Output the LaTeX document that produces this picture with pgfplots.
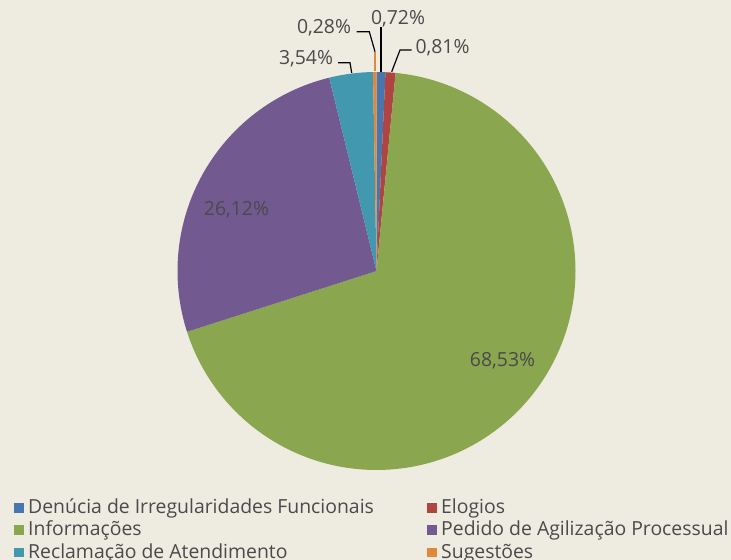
\documentclass[border=0pt]{standalone}
\usepackage{pgfplots}
\pgfplotsset{compat=1.18}
\usepackage{fontspec}
\setmainfont{Open Sans}

\definecolor{bg}{HTML}{EEECE1}
\definecolor{txt}{HTML}{4A4A4A}
\definecolor{cDen}{HTML}{4877B0}
\definecolor{cElo}{HTML}{AF4542}
\definecolor{cInf}{HTML}{8AA64F}
\definecolor{cPed}{HTML}{72598F}
\definecolor{cRec}{HTML}{4198AF}
\definecolor{cSug}{HTML}{E0883C}

% one wedge: cumulative share from #1 to #2 (percent), colour #3
% pie centre (376.5,289), radius 199, starts at 12 o'clock, clockwise
\newcommand{\slice}[3]{%
  \addplot[fill=#3, draw=none, domain=#1:#2, samples=150, variable=\t]
    ({376.5+199*cos(90-3.6*\t)}, {289+199*sin(90-3.6*\t)}) -- (376.5,289) -- cycle;}
% legend text with fixed height/depth so rows are evenly spaced
\newcommand{\legtxt}[1]{\raisebox{0pt}[13bp][4bp]{#1}}
\newcommand{\legtxtl}[1]{\raisebox{0pt}[13bp][4bp]{\makebox[395bp][l]{#1}}}

\begin{document}
\begin{tikzpicture}
  \path[use as bounding box] (0,0) rectangle (731bp,560bp);
  \clip (0,0) rectangle (731bp,560bp);
  \fill[bg] (0,0) rectangle (731bp,560bp);
  \begin{axis}[
      at={(0,0)}, anchor=south west,
      scale only axis, width=731bp, height=560bp,
      xmin=0, xmax=731, ymin=0, ymax=560,
      hide axis, clip=false,
      font=\fontsize{19.4bp}{23bp}\selectfont,
      legend columns=2,
      legend image code/.code={\fill[#1] (0bp,0.8bp) rectangle (10bp,10.3bp);},
      legend style={
        at={(axis cs:14,59.7)}, anchor=north west,
        draw=none, fill=none, inner sep=0pt,
        column sep=4bp, row sep=7.8bp,
        text=txt,
        cells={anchor=base west},
        nodes={inner sep=0pt},
      },
    ]

    % shares: 0.72, 0.81, 68.53, 26.12, 3.54, 0.28 (cumulative limits)
    \slice{0}{0.72}{cDen}
    \addlegendentry{\legtxtl{Denúcia de Irregularidades Funcionais}}
    \slice{0.72}{1.53}{cElo}
    \addlegendentry{\legtxt{Elogios}}
    \slice{1.53}{70.06}{cInf}
    \addlegendentry{\legtxtl{Informações}}
    \slice{70.06}{96.18}{cPed}
    \addlegendentry{\legtxt{Pedido de Agilização Processual}}
    \slice{96.18}{99.72}{cRec}
    \addlegendentry{\legtxtl{Reclamação de Atendimento}}
    \slice{99.72}{100}{cSug}
    \addlegendentry{\legtxt{Sugestões}}

    % leader lines
    \draw[black, line width=1.2bp] (axis cs:381,533) -- (axis cs:381,488);
    \draw[black, line width=1.2bp] (axis cs:411.7,510) -- (axis cs:400,510) -- (axis cs:391.7,488.3);
    \draw[black, line width=1.2bp] (axis cs:356.7,528.3) -- (axis cs:369.3,528.3) -- (axis cs:375,508.3);
    \draw[cSug, line width=2.5bp] (axis cs:375,508.3) -- (axis cs:375,489);
    \draw[black, line width=1.2bp] (axis cs:338,497.3) -- (axis cs:350,497.3) -- (axis cs:351.7,487);

    % data labels
    \begin{scope}[every node/.style={anchor=base, text=txt, inner sep=0pt}]
      \node at (axis cs:398,535) {0,72\%};
      \node at (axis cs:442.5,506) {0,81\%};
      \node at (axis cs:324,526.7) {0,28\%};
      \node at (axis cs:306,495) {3,54\%};
      \node at (axis cs:236.5,345) {26,12\%};
      \node at (axis cs:502.5,193.3) {68,53\%};
    \end{scope}
  \end{axis}
\end{tikzpicture}
\end{document}
